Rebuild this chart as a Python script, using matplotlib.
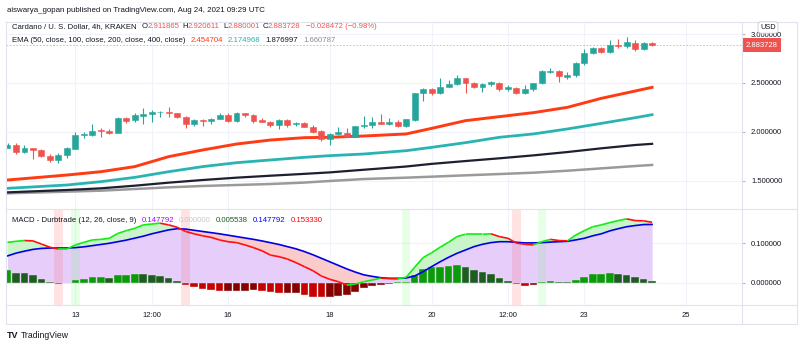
import numpy as np
import matplotlib.pyplot as plt
from matplotlib.collections import LineCollection
from matplotlib.lines import Line2D

plt.rcParams['font.family'] = ['Liberation Sans', 'DejaVu Sans']

# 4h candles, Aug 11 16:00 -> Aug 24 08:00 (UTC)
opens = [1.838, 1.865, 1.790, 1.831, 1.814, 1.753, 1.712, 1.759, 1.824, 1.967,
         1.971, 2.018, 2.008, 1.988, 2.141, 2.121, 2.165, 2.179, 2.203, 2.206,
         2.189, 2.155, 2.076, 2.121, 2.114, 2.131, 2.168, 2.110, 2.189, 2.168,
         2.121, 2.104, 2.070, 2.121, 2.076, 2.093, 2.053, 2.012, 1.923, 1.981,
         1.991, 1.950, 2.056, 2.073, 2.104, 2.083, 2.104, 2.059, 2.121, 2.400,
         2.438, 2.393, 2.462, 2.489, 2.547, 2.496, 2.455, 2.489, 2.503, 2.434,
         2.445, 2.393, 2.434, 2.496, 2.612, 2.622, 2.564, 2.581, 2.707, 2.802,
         2.853, 2.819, 2.888, 2.881, 2.905, 2.843, 2.911865]
highs = [1.882, 1.889, 1.865, 1.838, 1.828, 1.770, 1.783, 1.841, 1.995, 2.001,
         2.083, 2.035, 2.025, 2.148, 2.148, 2.189, 2.240, 2.223, 2.216, 2.250,
         2.196, 2.165, 2.128, 2.128, 2.138, 2.189, 2.189, 2.206, 2.196, 2.179,
         2.138, 2.110, 2.131, 2.131, 2.104, 2.104, 2.070, 2.018, 1.984, 2.053,
         2.042, 2.063, 2.162, 2.155, 2.182, 2.138, 2.121, 2.134, 2.400, 2.445,
         2.445, 2.547, 2.530, 2.581, 2.554, 2.513, 2.496, 2.520, 2.513, 2.478,
         2.455, 2.478, 2.503, 2.632, 2.656, 2.632, 2.615, 2.717, 2.843, 2.864,
         2.864, 2.939, 2.945, 2.966, 2.939, 2.922, 2.920611]
lows = [1.831, 1.773, 1.787, 1.722, 1.746, 1.695, 1.678, 1.729, 1.821, 1.933,
        1.960, 1.943, 1.977, 1.984, 2.087, 2.097, 2.076, 2.104, 2.148, 2.148,
        2.138, 2.035, 2.063, 2.063, 2.083, 2.128, 2.104, 2.104, 2.148, 2.087,
        2.097, 2.046, 2.029, 2.046, 2.063, 2.046, 1.991, 1.906, 1.865, 1.967,
        1.943, 1.943, 2.036, 2.036, 2.076, 2.070, 2.053, 2.046, 2.110, 2.318,
        2.376, 2.387, 2.455, 2.478, 2.400, 2.444, 2.410, 2.468, 2.421, 2.421,
        2.387, 2.387, 2.421, 2.489, 2.605, 2.513, 2.537, 2.557, 2.683, 2.796,
        2.809, 2.809, 2.853, 2.853, 2.830, 2.836, 2.880001]
closes = [1.865, 1.797, 1.831, 1.817, 1.753, 1.712, 1.759, 1.831, 1.967, 1.977,
          2.008, 2.005, 1.988, 2.141, 2.114, 2.168, 2.182, 2.206, 2.206, 2.189,
          2.155, 2.076, 2.121, 2.110, 2.131, 2.168, 2.114, 2.196, 2.172, 2.114,
          2.104, 2.070, 2.121, 2.070, 2.093, 2.053, 2.001, 1.926, 1.978, 1.995,
          1.950, 2.059, 2.070, 2.104, 2.083, 2.104, 2.059, 2.128, 2.393, 2.438,
          2.393, 2.462, 2.485, 2.547, 2.496, 2.455, 2.489, 2.506, 2.438, 2.455,
          2.393, 2.441, 2.496, 2.622, 2.622, 2.571, 2.581, 2.707, 2.802, 2.853,
          2.819, 2.888, 2.881, 2.915, 2.843, 2.905, 2.883728]
last_price = 2.883728

# EMA values read at a subset of candles
ema_idx = [0, 7, 11, 15, 19, 23, 27, 31, 35, 38, 42, 47, 50, 54, 58, 62, 66, 70, 74, 76]
ema50 = [1.507, 1.558, 1.592, 1.644, 1.746, 1.814, 1.875, 1.916, 1.940, 1.944,
         1.957, 1.978, 2.035, 2.114, 2.155, 2.196, 2.250, 2.342, 2.417, 2.455]
ema100 = [1.422, 1.456, 1.490, 1.534, 1.592, 1.644, 1.684, 1.712, 1.739, 1.756,
          1.773, 1.807, 1.841, 1.889, 1.944, 1.978, 2.029, 2.086, 2.144, 2.175]
ema200 = [1.381, 1.405, 1.422, 1.449, 1.480, 1.507, 1.531, 1.551, 1.570, 1.585,
          1.612, 1.645, 1.672, 1.701, 1.729, 1.759, 1.793, 1.831, 1.865, 1.877]
ema400 = [1.371, 1.388, 1.398, 1.415, 1.432, 1.446, 1.456, 1.466, 1.481, 1.497,
          1.517, 1.531, 1.541, 1.555, 1.568, 1.582, 1.602, 1.626, 1.650, 1.661]

macd = [0.1025, 0.105, 0.107, 0.106, 0.098, 0.090, 0.0856, 0.0856, 0.0958, 0.1025,
        0.1085, 0.110, 0.1127, 0.125, 0.132, 0.138, 0.1466, 0.149, 0.151, 0.1466,
        0.1407, 0.130, 0.124, 0.119, 0.115, 0.1085, 0.104, 0.1017, 0.0958, 0.089,
        0.081, 0.070, 0.066, 0.060, 0.051, 0.0407, 0.0305, 0.017, 0.0085, 0.0025,
        -0.006, -0.0034, 0.0025, 0.0068, 0.0115, 0.0105, 0.0100, 0.0136, 0.039, 0.0636,
        0.076, 0.090, 0.1025, 0.117, 0.123, 0.123, 0.123, 0.124, 0.117, 0.1127,
        0.1005, 0.0975, 0.0958, 0.104, 0.110, 0.107, 0.106, 0.121, 0.132, 0.142,
        0.1466, 0.1525, 0.1576, 0.162, 0.1576, 0.157, 0.1533]
signal = [0.068, 0.075, 0.080, 0.0845, 0.087, 0.088, 0.088, 0.088, 0.089, 0.091,
          0.094, 0.097, 0.100, 0.104, 0.108, 0.113, 0.118, 0.124, 0.129, 0.134,
          0.137, 0.136, 0.133, 0.130, 0.127, 0.124, 0.1205, 0.117, 0.1135, 0.110,
          0.106, 0.1015, 0.097, 0.0915, 0.086, 0.079, 0.071, 0.062, 0.053, 0.044,
          0.035, 0.027, 0.020, 0.016, 0.0127, 0.011, 0.011, 0.012, 0.017, 0.028,
          0.0407, 0.053, 0.0644, 0.0746, 0.083, 0.0915, 0.0975, 0.1017, 0.104, 0.104,
          0.1025, 0.101, 0.101, 0.1017, 0.103, 0.104, 0.105, 0.1085, 0.1127, 0.119,
          0.124, 0.1314, 0.137, 0.142, 0.145, 0.1475, 0.1478]
hist = [0.032, 0.0254, 0.0237, 0.0186, 0.0093, 0.0017, -0.0034, -0.0017, 0.0068, 0.0093,
        0.0136, 0.0153, 0.0127, 0.0195, 0.0195, 0.022, 0.021, 0.0195, 0.017, 0.011,
        0.005, -0.006, -0.010, -0.017, -0.0186, -0.020, -0.020, -0.020, -0.020, -0.0186,
        -0.021, -0.0246, -0.027, -0.027, -0.027, -0.0314, -0.0356, -0.037, -0.0356, -0.034,
        -0.031, -0.023, -0.0144, -0.0085, -0.005, -0.0025, 0.001, 0.0025, 0.0195, 0.034,
        0.039, 0.0407, 0.043, 0.045, 0.039, 0.032, 0.026, 0.021, 0.0127, 0.005,
        -0.0034, -0.0076, -0.005, 0.0017, 0.005, 0.0025, 0.001, 0.0068, 0.0153, 0.022,
        0.022, 0.0246, 0.022, 0.0195, 0.0136, 0.0093, 0.005]
cross_down = [6, 21, 60]
cross_up = [8, 47, 63]

tick_pos = [8, 17, 26, 38, 50, 59, 68, 80]
tick_labels = ['13', '12:00', '16', '18', '20', '12:00', '23', '25']
price_ticks = [1.5, 2.0, 2.5, 3.0]
macd_ticks = [0.0, 0.1]

DARK = '#131722'
GREEN = '#26a69a'
RED = '#ef5350'
GRID = '#f0f3fa'
BORDER = '#e0e3eb'

W, H = 800, 348
fig = plt.figure(figsize=(8, 3.48), dpi=100)


def fx(px):
    return px / W


def fy(py):
    return 1 - py / H


ax1 = fig.add_axes([fx(6), fy(209), fx(742) - fx(6), fy(21.5) - fy(209)])
ax2 = fig.add_axes([fx(6), fy(305), fx(742) - fx(6), fy(209) - fy(305)], sharex=ax1)

idx = np.arange(len(opens))
o, h, l, c = map(np.array, (opens, highs, lows, closes))
cols = np.where(c >= o, GREEN, RED)

# ---- price pane ----
ax1.vlines(idx, l, h, colors=cols, lw=0.8, zorder=5)
ax1.bar(idx, np.abs(c - o), bottom=np.minimum(o, c), width=0.7, color=cols,
        edgecolor=cols, lw=0.4, zorder=6)
ax1.plot(ema_idx, ema400, color='#9a9a9a', lw=1.8, zorder=3)
ax1.plot(ema_idx, ema200, color='#1c2030', lw=1.6, zorder=3)
ax1.plot(ema_idx, ema100, color='#2ab3b3', lw=2.0, zorder=3)
ax1.plot(ema_idx, ema50, color='#ff3b14', lw=2.1, zorder=3)
ax1.axhline(last_price, color=RED, alpha=0.55, lw=0.6, ls=(0, (2, 2)), zorder=2)

ax1.set_ylim(1.2106, 3.128)
ax1.set_yticks(price_ticks)
ax1.set_yticklabels([f'{v:.6f}' for v in price_ticks])
ax1.yaxis.tick_right()
ax1.tick_params(axis='y', length=2.5, color='#b2b5be', pad=4, labelsize=5.5, labelcolor=DARK)
ax1.tick_params(axis='x', length=0, labelbottom=False)
ax1.grid(color=GRID, lw=0.8)
ax1.set_axisbelow(True)

ax1.text(1.0 + 4 / 736, last_price, '2.883728', transform=ax1.get_yaxis_transform(),
         ha='left', va='center', fontsize=5.5, color='white', clip_on=False, zorder=10,
         bbox=dict(boxstyle='square,pad=0.45', fc=RED, ec='none'))

# ---- MACD pane ----
x = idx
m = np.array(macd)
s = np.array(signal)
ax2.fill_between(x, 0, s, color='#e6cdfa', lw=0, zorder=1)
ax2.fill_between(x, m, s, where=m >= s, interpolate=True, color='#c9f5c9', lw=0, zorder=2)
ax2.fill_between(x, m, s, where=m < s, interpolate=True, color='#fbcaca', lw=0, zorder=2)
for i in cross_down:
    ax2.axvspan(i - 0.5, i + 0.5, color='#ff5a5a', alpha=0.17, lw=0, zorder=3)
for i in cross_up:
    ax2.axvspan(i - 0.5, i + 0.5, color='#5aff5a', alpha=0.15, lw=0, zorder=3)

hcols = []
for k, v in enumerate(hist):
    prev = hist[k - 1] if k > 0 else v
    if v >= 0:
        hcols.append('#0a9a0a' if v >= prev else '#1f5c22')
    else:
        hcols.append('#c80000' if v < prev else '#860000')
ax2.bar(x, hist, width=0.9, color=hcols, edgecolor='#e4e4e4', lw=0.3, zorder=4)

ax2.plot(x, s, color='#0000e6', lw=1.2, zorder=5)
pts = np.column_stack([x, m])
segs = np.stack([pts[:-1], pts[1:]], axis=1)
seg_cols = ['#11ee11' if m[k + 1] >= m[k] else '#ff1010' for k in range(len(m) - 1)]
ax2.add_collection(LineCollection(segs, colors=seg_cols, lw=1.2, zorder=6))

ax2.set_ylim(-0.0566, 0.187)
ax2.set_yticks(macd_ticks)
ax2.set_yticklabels([f'{v:.6f}' for v in macd_ticks])
ax2.yaxis.tick_right()
ax2.tick_params(axis='y', length=2.5, color='#b2b5be', pad=4, labelsize=5.5, labelcolor=DARK)
ax2.set_xticks(tick_pos)
ax2.set_xticklabels(tick_labels)
ax2.tick_params(axis='x', length=0, pad=5, labelsize=5.5, labelcolor=DARK)
ax2.set_xlim(-0.18, 86.6)
ax2.grid(color=GRID, lw=0.8)
ax2.set_axisbelow(True)

for ax in (ax1, ax2):
    for sp in ax.spines.values():
        sp.set_visible(False)

# ---- frame lines ----
def hline(py, x0=6, x1=797):
    fig.add_artist(Line2D([fx(x0), fx(x1)], [fy(py), fy(py)], color=BORDER, lw=0.8))


def vline(px, y0=21.5, y1=324):
    fig.add_artist(Line2D([fx(px), fx(px)], [fy(y0), fy(y1)], color=BORDER, lw=0.8))


for py in (21.5, 209, 305, 324):
    hline(py)
for px in (6, 742, 797):
    vline(px)

fig.text(fx(768), fy(27.5), 'USD', ha='center', va='center', fontsize=5.3, color=DARK,
         bbox=dict(boxstyle='round,pad=0.3,rounding_size=0.4', fc='white', ec='#c8cad2', lw=0.6))

# ---- legend rows ----
def text_row(ax, px, py, parts, size=5.6):
    t = fig.text(fx(px), fy(py), parts[0][0], color=parts[0][1], fontsize=size,
                 ha='left', va='center')
    for txt, col, gap in parts[1:]:
        t = ax.annotate(txt, xy=(1, 0.5), xycoords=t, xytext=(gap * 0.72, 0),
                        textcoords='offset points', ha='left', va='center',
                        color=col, fontsize=size, annotation_clip=False, clip_on=False,
                        zorder=20)


fig.text(fx(7), fy(10), 'aiswarya_gopan published on TradingView.com, Aug 24, 2021 09:29 UTC',
         fontsize=5.7, color=DARK, ha='left', va='center')

text_row(ax1, 12, 27, [('Cardano / U. S. Dollar, 4h, KRAKEN', DARK, 0),
                       ('O', DARK, 5), ('2.911865', RED, 0),
                       ('H', DARK, 3), ('2.920611', RED, 0),
                       ('L', DARK, 3), ('2.880001', RED, 0),
                       ('C', DARK, 3), ('2.883728', RED, 0),
                       ('\u22120.028472 (\u22120.98%)', RED, 5)])
text_row(ax1, 12, 40, [('EMA (50, close, 100, close, 200, close, 400, close)', DARK, 0),
                       ('2.454704', '#ff3b14', 5), ('2.174968', '#2ab3b3', 5),
                       ('1.876997', DARK, 5), ('1.660787', '#8c8c8c', 5)])
text_row(ax2, 12, 220, [('MACD - Durbtrade (12, 26, close, 9)', DARK, 0),
                        ('0.147792', '#aa00ff', 5), ('0.000000', '#c8c8c8', 5),
                        ('0.005538', '#1b5e20', 5), ('0.147792', '#0000ff', 5),
                        ('0.153330', '#ff0000', 5)])

fig.text(fx(7), fy(336), 'TV', fontsize=6.5, weight='bold', color=DARK, ha='left', va='center')
fig.text(fx(21), fy(336), 'TradingView', fontsize=6.2, color=DARK, ha='left', va='center')

fig.savefig('out.png', dpi=100)
